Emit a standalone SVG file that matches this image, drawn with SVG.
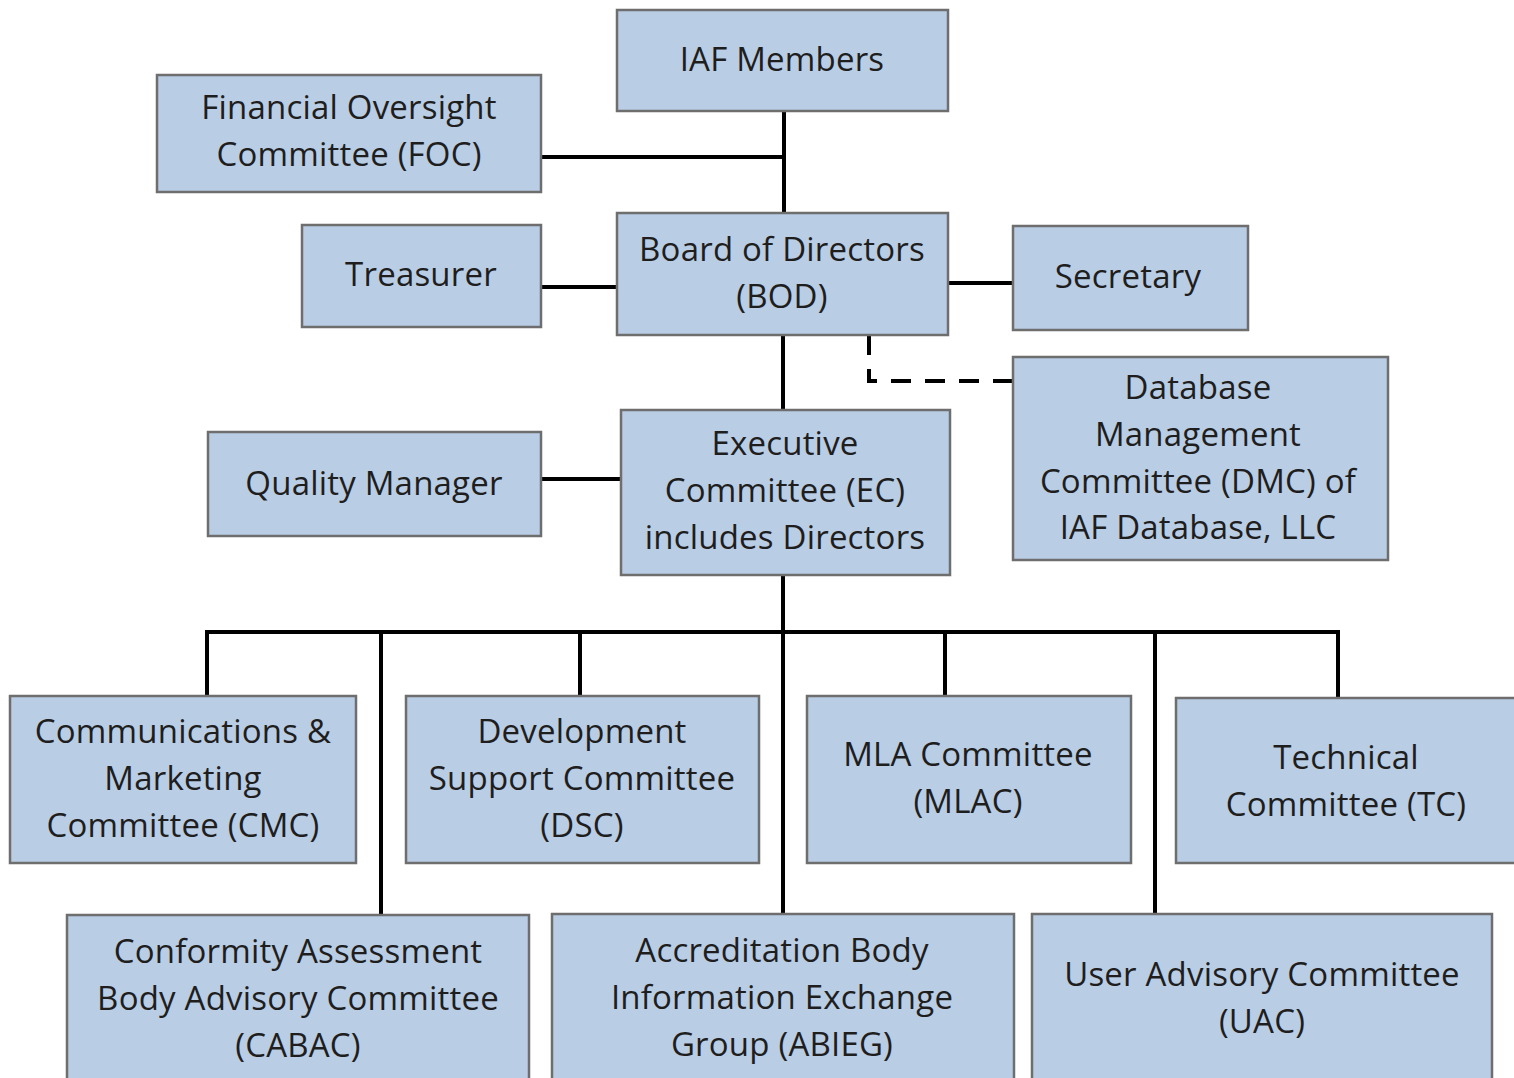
<svg xmlns="http://www.w3.org/2000/svg" width="1514" height="1078" viewBox="0 0 1514 1078">
<style>
.box{fill:#B9CDE5;stroke:#6E6E6E;stroke-width:2.5}
.t{font-family:"Open Sans",Lato,"Liberation Sans",sans-serif;font-size:33px;letter-spacing:0.2px;fill:#1E1E1E;text-anchor:middle}
.c{fill:none;stroke:#000;stroke-width:4}
.d{fill:none;stroke:#000;stroke-width:4;stroke-dasharray:20,14}
</style>
<rect width="1514" height="1078" fill="#fff"/>
<g id="connectors">
<path class="c" d="M784 111V213M541 157H784M541 287H617M948 283H1013M783 335V410M541 479H621"/>
<path class="d" d="M869 335V381H1013"/>
<path class="c" d="M783 575V914M207 696V632H1338V698M381 632V915M580 632V696M945 632V696M1155 632V914"/>
</g>
<g id="iaf"><rect class="box" x="617" y="10" width="331" height="101"/><text class="t" x="782" y="71">IAF Members</text></g>
<g id="foc"><rect class="box" x="157" y="75" width="384" height="117"/><text class="t" x="349" y="119">Financial Oversight</text><text class="t" x="349" y="166">Committee (FOC)</text></g>
<g id="treasurer"><rect class="box" x="302" y="225" width="239" height="102"/><text class="t" x="421" y="286">Treasurer</text></g>
<g id="bod"><rect class="box" x="617" y="213" width="331" height="122"/><text class="t" x="782" y="261">Board of Directors</text><text class="t" x="782" y="308">(BOD)</text></g>
<g id="secretary"><rect class="box" x="1013" y="226" width="235" height="104"/><text class="t" x="1128" y="288">Secretary</text></g>
<g id="dmc"><rect class="box" x="1013" y="357" width="375" height="203"/><text class="t" x="1198" y="399">Database</text><text class="t" x="1198" y="446">Management</text><text class="t" x="1198" y="493">Committee (DMC) of</text><text class="t" x="1198" y="539">IAF Database, LLC</text></g>
<g id="qm"><rect class="box" x="208" y="432" width="333" height="104"/><text class="t" x="374" y="495">Quality Manager</text></g>
<g id="ec"><rect class="box" x="621" y="410" width="329" height="165"/><text class="t" x="785" y="455">Executive</text><text class="t" x="785" y="502">Committee (EC)</text><text class="t" x="785" y="549">includes Directors</text></g>
<g id="cmc"><rect class="box" x="10" y="696" width="346" height="167"/><text class="t" x="183" y="743">Communications &amp;</text><text class="t" x="183" y="790">Marketing</text><text class="t" x="183" y="837">Committee (CMC)</text></g>
<g id="dsc"><rect class="box" x="406" y="696" width="353" height="167"/><text class="t" x="582" y="743">Development</text><text class="t" x="582" y="790">Support Committee</text><text class="t" x="582" y="837">(DSC)</text></g>
<g id="mlac"><rect class="box" x="807" y="696" width="324" height="167"/><text class="t" x="968" y="766">MLA Committee</text><text class="t" x="968" y="813">(MLAC)</text></g>
<g id="tc"><rect class="box" x="1176" y="698" width="340" height="165"/><text class="t" x="1346" y="769">Technical</text><text class="t" x="1346" y="816">Committee (TC)</text></g>
<g id="cabac"><rect class="box" x="67" y="915" width="462" height="170"/><text class="t" x="298" y="963">Conformity Assessment</text><text class="t" x="298" y="1010">Body Advisory Committee</text><text class="t" x="298" y="1057">(CABAC)</text></g>
<g id="abieg"><rect class="box" x="552" y="914" width="462" height="170"/><text class="t" x="782" y="962">Accreditation Body</text><text class="t" x="782" y="1009">Information Exchange</text><text class="t" x="782" y="1056">Group (ABIEG)</text></g>
<g id="uac"><rect class="box" x="1032" y="914" width="460" height="170"/><text class="t" x="1262" y="986">User Advisory Committee</text><text class="t" x="1262" y="1033">(UAC)</text></g>
</svg>
